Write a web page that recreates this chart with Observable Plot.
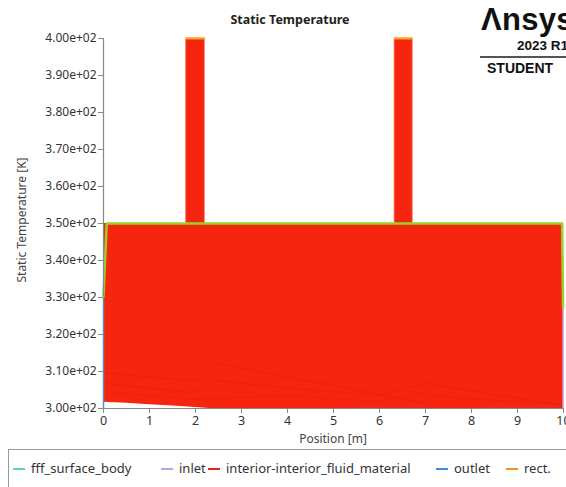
<!DOCTYPE html>
<html>
<head>
<meta charset="utf-8">
<script src="https://cdn.jsdelivr.net/npm/d3@7"></script>
<script src="https://cdn.jsdelivr.net/npm/@observablehq/plot@0.6"></script>
<style>
  html, body { margin: 0; padding: 0; background: #fff; }
  #wrap { position: relative; width: 566px; height: 487px; overflow: hidden; font-family: "Noto Sans", "DejaVu Sans", sans-serif; color: #333; }
  #chart { position: absolute; left: 0; top: 0; }
  .abs { position: absolute; white-space: nowrap; }
  #title { left: 0; width: 580px; top: 11px; text-align: center; font-weight: bold; font-size: 12.5px; color: #222; }
  #ylab { left: 21px; top: 220px; transform: translate(-50%, -50%) rotate(-90deg); font-size: 12px; color: #444; }
  #xlab { left: 333px; top: 430px; transform: translateX(-50%); font-size: 12px; color: #444; }
  #legend { left: 8px; top: 449px; width: 600px; height: 60px; border: 1.5px solid #999; box-sizing: border-box; }
  .item { position: absolute; top: 9px; font-size: 13px; color: #333; }
  .sw { display: inline-block; width: 12px; height: 2px; vertical-align: middle; margin-right: 6px; position: relative; top: -1px; }
  #logo1 { left: 481px; top: 2px; font-weight: 900; font-size: 31px; color: #111; letter-spacing: 0.3px; font-family: "Liberation Sans", Arial, sans-serif; }
  #logo2 { left: 517px; top: 38px; font-weight: bold; font-size: 13.5px; color: #111; font-family: "Liberation Sans", Arial, sans-serif; }
  #logoline { left: 480px; top: 56px; width: 90px; height: 1.5px; background: #555; }
  #logo3 { left: 487px; top: 60px; font-weight: bold; font-size: 14px; color: #111; font-family: "Liberation Sans", Arial, sans-serif; }
</style>
</head>
<body>
<div id="wrap">
  <div id="chart"></div>
  <div class="abs" id="title">Static Temperature</div>
  <div class="abs" id="ylab">Static Temperature [K]</div>
  <div class="abs" id="xlab">Position [m]</div>
  <div class="abs" id="logo1">Λnsys</div>
  <div class="abs" id="logo2">2023 R1</div>
  <div class="abs" id="logoline"></div>
  <div class="abs" id="logo3">STUDENT</div>
  <div class="abs" id="legend"></div>
</div>
<script>
// ---- data ----
const xTicks = [0, 1, 2, 3, 4, 5, 6, 7, 8, 9, 10];
const yTicks = [300, 310, 320, 330, 340, 350, 360, 370, 380, 390, 400];

// interior-interior_fluid_material: filled band between lower and upper envelope
const bandX     = [0, 0.5, 1, 1.5, 2, 2.3, 3, 10];
const bandLow   = [301.7, 301.4, 301.0, 300.7, 300.3, 300.0, 300.0, 300.0];
const bandHigh  = [350, 350, 350, 350, 350, 350, 350, 350];

// interior spikes (cells reaching 400 K)
const spikeStart = [1.80, 6.33];
const spikeEnd   = [2.20, 6.72];
const spikeBase  = [350, 350];
const spikeTop   = [400, 400];

// faint internal traces inside the band
const traceAX = [0, 1, 2, 2.5, 4, 5.5, 7];
const traceAY = [309.7, 308.5, 307.5, 312.2, 308.5, 305.0, 301.4];
const traceBX = [0, 1.9, 2.5, 4, 6, 7, 8.5, 10];
const traceBY = [306.8, 304.3, 307.5, 305.5, 303.5, 306.8, 303.8, 300.8];
const traceCX = [0, 2, 4, 6, 6.9, 8, 10];
const traceCY = [304.5, 302.5, 303.5, 301.8, 304.0, 302.5, 301.2];

// upper outline series (lime) and edge segments
const limeX = [0, 0.07, 9.97, 9.99];
const limeY = [330.3, 350, 350, 327.3];
const inletX = [9.99, 9.99];
const inletY = [327.3, 300];
const outletX = [0, 0];
const outletY = [300, 330.3];

// legend
const legendNames  = ["fff_surface_body", "inlet", "interior-interior_fluid_material", "outlet", "rect."];
const legendColors = ["#5fd1ad", "#b6a6e0", "#e8231a", "#3d8fd1", "#f59226"];
const legendLeft   = [12, 160, 207, 435, 505];

const RED = "#f6250f";

const band = bandX.map((x, i) => ({x, lo: bandLow[i], hi: bandHigh[i]}));
const spikes = spikeStart.map((s, i) => ({x1: s, x2: spikeEnd[i], y1: spikeBase[i], y2: spikeTop[i]}));
const pts = (xs, ys) => xs.map((x, i) => ({x, y: ys[i]}));

const fmt = d => d.toExponential(2).replace(/e\+(\d)$/, "e+0$1");

const plot = Plot.plot({
  width: 566,
  height: 450,
  marginLeft: 103,
  marginRight: 3,
  marginTop: 38,
  marginBottom: 42,
  style: {fontFamily: "'Noto Sans', 'DejaVu Sans', sans-serif", fontSize: "12px", color: "#333", background: "transparent"},
  x: {domain: [0, 10]},
  y: {domain: [300, 400]},
  marks: [
    Plot.areaY(band, {x: "x", y1: "lo", y2: "hi", fill: RED, curve: "linear"}),
    Plot.rect(spikes, {x1: "x1", x2: "x2", y1: "y1", y2: "y2", fill: RED, stroke: "#ff5a3a", strokeWidth: 0.8}),
    Plot.ruleY(spikes, {x1: "x1", x2: "x2", y: "y2", stroke: "#f5a623", strokeWidth: 2}),
    Plot.line(pts(traceAX, traceAY), {x: "x", y: "y", stroke: "#c8150a", strokeOpacity: 0.28, strokeWidth: 1}),
    Plot.line(pts(traceBX, traceBY), {x: "x", y: "y", stroke: "#c8150a", strokeOpacity: 0.25, strokeWidth: 1}),
    Plot.line(pts(traceCX, traceCY), {x: "x", y: "y", stroke: "#c8150a", strokeOpacity: 0.2, strokeWidth: 1}),
    Plot.line(pts(inletX, inletY), {x: "x", y: "y", stroke: "#c9a3d8", strokeWidth: 1.5}),
    Plot.line(pts(outletX, outletY), {x: "x", y: "y", stroke: "#5d8fb8", strokeWidth: 1.5}),
    Plot.line(pts(limeX, limeY), {x: "x", y: "y", stroke: "#9ccd2c", strokeWidth: 2.5}),
    Plot.ruleX([0], {y1: 330.3, y2: 400, stroke: "#888", strokeWidth: 1.2}),
    Plot.ruleY([300], {stroke: "#888", strokeWidth: 1.2}),
    Plot.axisY(yTicks, {tickFormat: fmt, tickSize: 5, tickPadding: 2, stroke: "#888", fontSize: 12, fill: "#333", label: null}),
    Plot.axisX(xTicks, {tickSize: 5, tickPadding: 3, stroke: "#888", fontSize: 12.5, fill: "#333", label: null})
  ]
});
document.getElementById("chart").appendChild(plot);

const leg = document.getElementById("legend");
legendNames.forEach((n, i) => {
  const d = document.createElement("div");
  d.className = "item";
  d.style.left = (legendLeft[i] - 8) + "px";
  d.innerHTML = `<span class="sw" style="background:${legendColors[i]}"></span>${n}`;
  leg.appendChild(d);
});
</script>
</body>
</html>
